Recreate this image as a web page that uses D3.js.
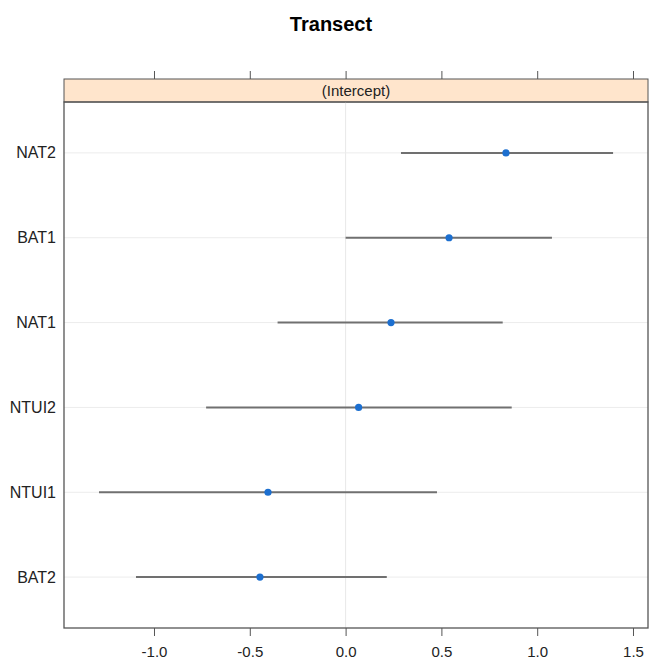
<!DOCTYPE html>
<html>
<head>
<meta charset="utf-8">
<script src="https://cdn.jsdelivr.net/npm/d3@7"></script>
<style>
  body { margin: 0; background: #fff; }
  svg { font-family: "Liberation Sans", Arial, sans-serif; }
</style>
</head>
<body>
<svg width="650" height="666"></svg>
<script>
const LEVELS = ['NAT2', 'BAT1', 'NAT1', 'NTUI2', 'NTUI1', 'BAT2'];
const ESTIMATES = [0.837, 0.540, 0.237, 0.068, -0.405, -0.447];
const LOWER = [0.289, 0.000, -0.355, -0.728, -1.287, -1.094];
const UPPER = [1.396, 1.077, 0.820, 0.867, 0.477, 0.215];
const X_TICKS = [-1.0, -0.5, 0.0, 0.5, 1.0, 1.5];

const PANEL = {left: 64, right: 648, top: 102, bottom: 628};
const STRIP = {top: 79, bottom: 102};

const rows = LEVELS.map((level, i) => ({
    level: level,
    est: ESTIMATES[i],
    lo: LOWER[i],
    hi: UPPER[i],
}));

const xScale = d3.scaleLinear()
    .domain([-1.4697, 1.5783])
    .range([PANEL.left, PANEL.right]);

const yScale = d3.scalePoint()
    .domain(LEVELS)
    .range([PANEL.top, PANEL.bottom])
    .padding(0.6);

const svg = d3.select('svg');

// title
svg.append('text')
    .attr('x', 331)
    .attr('y', 31)
    .attr('text-anchor', 'middle')
    .attr('font-size', 20)
    .attr('font-weight', 'bold')
    .text('Transect');

// strip
svg.append('rect')
    .attr('x', PANEL.left)
    .attr('y', STRIP.top)
    .attr('width', PANEL.right - PANEL.left)
    .attr('height', STRIP.bottom - STRIP.top)
    .attr('fill', '#ffe5cc')
    .attr('stroke', '#555')
    .attr('stroke-width', 1);

svg.append('text')
    .attr('x', (PANEL.left + PANEL.right) / 2)
    .attr('y', (STRIP.top + STRIP.bottom) / 2 + 5)
    .attr('text-anchor', 'middle')
    .attr('font-size', 15)
    .attr('fill', '#222')
    .text('(Intercept)');

// reference lines
svg.append('line')
    .attr('x1', xScale(0)).attr('x2', xScale(0))
    .attr('y1', PANEL.top).attr('y2', PANEL.bottom)
    .attr('stroke', '#e8e8e8')
    .attr('stroke-width', 1);

svg.selectAll('.refline')
    .data(rows)
    .enter()
    .append('line')
    .classed('refline', true)
    .attr('x1', PANEL.left).attr('x2', PANEL.right)
    .attr('y1', d => yScale(d.level)).attr('y2', d => yScale(d.level))
    .attr('stroke', '#ececec')
    .attr('stroke-width', 1);

// intervals
svg.selectAll('.interval')
    .data(rows)
    .enter()
    .append('line')
    .classed('interval', true)
    .attr('x1', d => xScale(d.lo))
    .attr('x2', d => xScale(d.hi))
    .attr('y1', d => yScale(d.level))
    .attr('y2', d => yScale(d.level))
    .attr('stroke', '#707070')
    .attr('stroke-width', 2);

// points
svg.selectAll('.point')
    .data(rows)
    .enter()
    .append('circle')
    .classed('point', true)
    .attr('cx', d => xScale(d.est))
    .attr('cy', d => yScale(d.level))
    .attr('r', 3.6)
    .attr('fill', '#1c6fd0');

// panel border
svg.append('rect')
    .attr('x', PANEL.left)
    .attr('y', PANEL.top)
    .attr('width', PANEL.right - PANEL.left)
    .attr('height', PANEL.bottom - PANEL.top)
    .attr('fill', 'none')
    .attr('stroke', '#555')
    .attr('stroke-width', 1.3);

// bottom axis (hyphen minus like R output)
const bottomAxis = svg.append('g')
    .attr('transform', `translate(0, ${PANEL.bottom})`)
    .call(d3.axisBottom(xScale)
        .tickValues(X_TICKS)
        .tickFormat(d => d.toFixed(1))
        .tickSize(8)
        .tickPadding(10)
        .tickSizeOuter(0));
bottomAxis.select('.domain').remove();
bottomAxis.selectAll('line').attr('stroke', '#555');
bottomAxis.selectAll('text')
    .attr('font-size', 15)
    .attr('font-family', '"Liberation Sans", Arial, sans-serif')
    .attr('fill', '#222');

// top axis (ticks only)
const topAxis = svg.append('g')
    .attr('transform', `translate(0, ${STRIP.top})`)
    .call(d3.axisTop(xScale)
        .tickValues(X_TICKS)
        .tickFormat('')
        .tickSize(8)
        .tickSizeOuter(0));
topAxis.select('.domain').remove();
topAxis.selectAll('line').attr('stroke', '#555');

// y labels
svg.selectAll('.ylabel')
    .data(rows)
    .enter()
    .append('text')
    .classed('ylabel', true)
    .attr('x', 56)
    .attr('y', d => yScale(d.level) + 5.5)
    .attr('text-anchor', 'end')
    .attr('font-size', 16)
    .attr('fill', '#222')
    .text(d => d.level);
</script>
</body>
</html>
